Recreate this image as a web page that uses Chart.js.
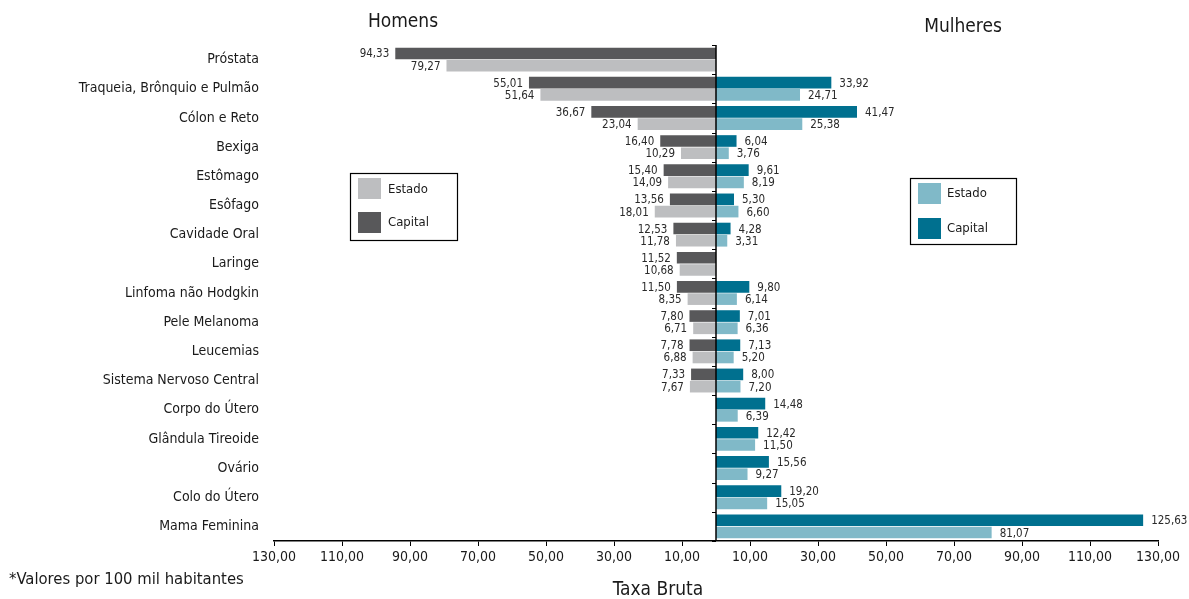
<!DOCTYPE html>
<html lang="pt-BR">
<head>
  <meta charset="UTF-8">
  <title>Taxa Bruta - Homens e Mulheres</title>
  <script src="https://cdn.jsdelivr.net/npm/chart.js"></script>
  <style>
    html, body {
      margin: 0;
      padding: 0;
      background: #fff;
    }
    .chart-box {
      position: relative;
      width: 1189px;
      height: 599px;
    }
  </style>
</head>
<body>
<div class="chart-box">
  <canvas id="taxaChart" width="1189" height="599"></canvas>
</div>

<script>
  const categories = [
    'Próstata', 'Traqueia, Brônquio e Pulmão', 'Cólon e Reto', 'Bexiga', 'Estômago',
    'Esôfago', 'Cavidade Oral', 'Laringe', 'Linfoma não Hodgkin', 'Pele Melanoma',
    'Leucemias', 'Sistema Nervoso Central', 'Corpo do Útero', 'Glândula Tireoide',
    'Ovário', 'Colo do Útero', 'Mama Feminina'
  ];
  const homensCapital = [94.33, 55.01, 36.67, 16.40, 15.40, 13.56, 12.53, 11.52, 11.50, 7.80, 7.78, 7.33, null, null, null, null, null];
  const homensEstado  = [79.27, 51.64, 23.04, 10.29, 14.09, 18.01, 11.78, 10.68, 8.35, 6.71, 6.88, 7.67, null, null, null, null, null];
  const mulheresCapital = [null, 33.92, 41.47, 6.04, 9.61, 5.30, 4.28, null, 9.80, 7.01, 7.13, 8.00, 14.48, 12.42, 15.56, 19.20, 125.63];
  const mulheresEstado  = [null, 24.71, 25.38, 3.76, 8.19, 6.60, 3.31, null, 6.14, 6.36, 5.20, 7.20, 6.39, 11.50, 9.27, 15.05, 81.07];
  const xTicks = [-130, -110, -90, -70, -50, -30, -10, 10, 30, 50, 70, 90, 110, 130];

  const FONT = "'Liberation Sans Narrow', 'Arial Narrow', 'DejaVu Sans Condensed', sans-serif";
  const cores = {
    homensCapital: '#58585a',
    homensEstado: '#bdbec0',
    mulheresCapital: '#00708f',
    mulheresEstado: '#80b9c8'
  };

  const fmt = v => Math.abs(v).toFixed(2).replace('.', ',');
  const neg = arr => arr.map(v => v == null ? null : -v);

  // value labels next to each bar, plus zero line and small category ticks
  const barLabels = {
    id: 'barLabels',
    beforeDatasetsDraw(chart) {
      const ctx = chart.ctx;
      const area = chart.chartArea;
      const x0 = chart.scales.x.getPixelForValue(0);
      ctx.save();
      ctx.strokeStyle = '#000';
      ctx.lineWidth = 1;
      const step = (area.bottom - area.top) / categories.length;
      for (let i = 0; i <= categories.length; i++) {
        const y = Math.round(area.top + i * step) + 0.5;
        ctx.beginPath();
        ctx.moveTo(x0 - 4, y);
        ctx.lineTo(x0, y);
        ctx.stroke();
      }
      ctx.restore();
    },
    afterDatasetsDraw(chart) {
      const ctx = chart.ctx;
      const area = chart.chartArea;
      const x0 = chart.scales.x.getPixelForValue(0);

      ctx.save();
      ctx.strokeStyle = '#000';
      ctx.lineWidth = 1.5;
      ctx.beginPath();
      ctx.moveTo(x0, area.top);
      ctx.lineTo(x0, area.bottom);
      ctx.stroke();

      ctx.font = '11.5px ' + FONT;
      ctx.fillStyle = '#2a2a2a';
      ctx.textBaseline = 'middle';
      chart.data.datasets.forEach((ds, di) => {
        const meta = chart.getDatasetMeta(di);
        meta.data.forEach((bar, i) => {
          const v = ds.data[i];
          if (v == null) return;
          if (v < 0) {
            ctx.textAlign = 'right';
            ctx.fillText(fmt(v), bar.x - 6, bar.y + 1);
          } else {
            ctx.textAlign = 'left';
            ctx.fillText(fmt(v), bar.x + 8, bar.y + 1);
          }
        });
      });
      ctx.restore();
    },
    afterDraw(chart) {
      const ctx = chart.ctx;
      ctx.save();
      ctx.fillStyle = '#1a1a1a';
      ctx.textBaseline = 'middle';

      ctx.font = '19px ' + FONT;
      ctx.textAlign = 'center';
      ctx.fillText('Homens', 403, 22);
      ctx.fillText('Mulheres', 963, 27);
      ctx.fillText('Taxa Bruta', 658, 590);

      ctx.font = '16.5px ' + FONT;
      ctx.textAlign = 'left';
      ctx.fillText('*Valores por 100 mil habitantes', 9, 580);

      // two legend boxes, one per side
      const legendas = [
        { x: 350, y: 173, w: 107, h: 67, sx: 358, sy: [178, 212], tx: 388, ty: [190, 223],
          cores: [cores.homensEstado, cores.homensCapital] },
        { x: 910, y: 178, w: 106, h: 66, sx: 918, sy: [183, 218], tx: 947, ty: [194, 229],
          cores: [cores.mulheresEstado, cores.mulheresCapital] }
      ];
      const nomes = ['Estado', 'Capital'];
      ctx.font = '13px ' + FONT;
      legendas.forEach(l => {
        ctx.strokeStyle = '#000';
        ctx.lineWidth = 1.2;
        ctx.strokeRect(l.x + 0.5, l.y + 0.5, l.w, l.h);
        nomes.forEach((n, k) => {
          ctx.fillStyle = l.cores[k];
          ctx.fillRect(l.sx, l.sy[k], 23, 21);
          ctx.fillStyle = '#1a1a1a';
          ctx.fillText(n, l.tx, l.ty[k]);
        });
      });
      ctx.restore();
    }
  };

  new Chart(document.getElementById('taxaChart'), {
    type: 'bar',
    data: {
      labels: categories,
      datasets: [
        { label: 'Capital', data: neg(homensCapital), backgroundColor: cores.homensCapital, stack: 'capital' },
        { label: 'Capital', data: mulheresCapital, backgroundColor: cores.mulheresCapital, stack: 'capital' },
        { label: 'Estado', data: neg(homensEstado), backgroundColor: cores.homensEstado, stack: 'estado' },
        { label: 'Estado', data: mulheresEstado, backgroundColor: cores.mulheresEstado, stack: 'estado' }
      ]
    },
    options: {
      indexAxis: 'y',
      responsive: false,
      animation: false,
      categoryPercentage: 0.84,
      barPercentage: 0.95,
      layout: { padding: { top: 45, right: 31, bottom: 0, left: 0 } },
      plugins: {
        legend: { display: false },
        tooltip: { enabled: false }
      },
      scales: {
        x: {
          stacked: true,
          min: -130,
          max: 130,
          afterBuildTicks: s => { s.ticks = xTicks.map(v => ({ value: v })); },
          afterFit: s => { s.height = 58; s.paddingLeft = 0; s.paddingRight = 0; },
          grid: { drawOnChartArea: false, drawTicks: true, tickLength: 5, color: '#000' },
          border: { display: true, color: '#000', width: 1.5 },
          ticks: {
            autoSkip: false,
            maxRotation: 0,
            padding: 3,
            color: '#1a1a1a',
            font: { family: FONT, size: 14 },
            callback: v => fmt(v)
          }
        },
        y: {
          stacked: true,
          afterFit: s => { s.width = 274; s.paddingTop = 0; s.paddingBottom = 0; },
          grid: { display: false, drawTicks: false },
          border: { display: false },
          ticks: {
            autoSkip: false,
            padding: 15,
            color: '#1a1a1a',
            font: { family: FONT, size: 14 }
          }
        }
      }
    },
    plugins: [barLabels]
  });
</script>
</body>
</html>
